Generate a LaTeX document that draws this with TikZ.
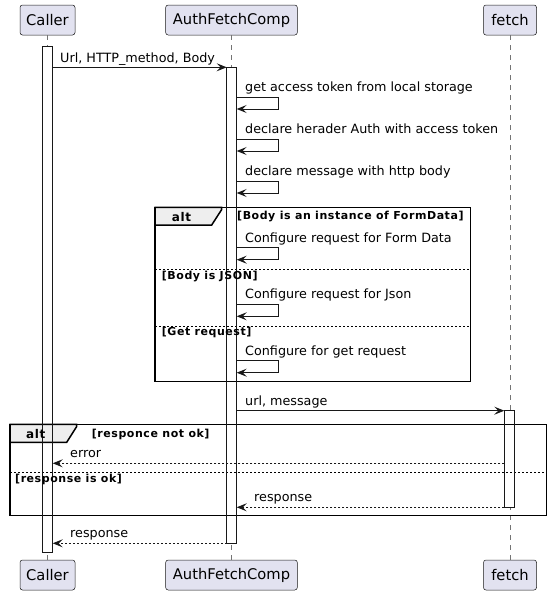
\documentclass[tikz,border=0pt]{standalone}
\usepackage{fontspec}
\setmainfont{DejaVu Sans}
\newfontfamily\guardfont[LetterSpace=5]{DejaVu Sans}
\usetikzlibrary{positioning,arrows.meta}

\definecolor{partfill}{HTML}{E2E2F0}
\definecolor{partline}{HTML}{181818}
\definecolor{tabfill}{HTML}{EEEEEE}

\tikzset{
	participant/.style={draw=partline, fill=partfill, line width=0.5pt, rounded corners=2.5pt, minimum height=30pt, inner xsep=0pt, font=\fontsize{14.7}{17}\selectfont},
	lifeline/.style={draw=partline!60, line width=0.5pt, dash pattern=on 5pt off 5pt},
	activation/.style={fill=white, minimum width=10pt, inner sep=0pt, anchor=north},
	activationline/.style={draw=partline, line width=1pt},
	msg/.style={draw=partline, line width=1pt, -{Stealth[length=10pt,width=8pt,inset=4pt]}},
	reply/.style={msg, dash pattern=on 2pt off 2pt},
	msgtext/.style={anchor=base west, inner sep=0pt, font=\fontsize{12.75}{15}\selectfont},
	guard/.style={anchor=base west, inner sep=0pt, font=\guardfont\bfseries\fontsize{11}{13}\selectfont},
	alttext/.style={anchor=base west, inner sep=0pt, font=\guardfont\bfseries\fontsize{12}{14}\selectfont},
	altframe/.style={draw=black, line width=1.5pt},
	alttab/.style={draw=black, fill=tabfill, line width=1.5pt},
	separator/.style={draw=black, line width=1pt, dash pattern=on 2pt off 2pt}
}

\begin{document}
\begin{tikzpicture}[x=1pt, y=-1pt]
	\useasboundingbox (0, 0) rectangle (552, 595);

	% Participants:
	\node[participant, minimum width=55pt] (callerTop) at (47.5, 20) {Caller};
	\node[participant, minimum width=131.6pt] (authTop) at (231.5, 20) {AuthFetchComp};
	\node[participant, minimum width=53pt] (fetchTop) at (510, 20) {fetch};
	\node[participant, minimum width=55pt] (callerBot) at (47.5, 575) {Caller};
	\node[participant, minimum width=131.6pt] (authBot) at (231.5, 575) {AuthFetchComp};
	\node[participant, minimum width=53pt] (fetchBot) at (510, 575) {fetch};

	% Lifelines:
	\draw[lifeline] (callerTop) -- (callerBot);
	\draw[lifeline] (authTop) -- (authBot);
	\draw[lifeline] (fetchTop) -- (fetchBot);

	% Activations (fill):
	\node[activation, minimum height=505pt] (callerAct) at (47.5, 46.7) {};
	\node[activation, minimum height=476pt] (authAct) at (231.7, 67.3) {};
	\node[activation, minimum height=96.6pt] (fetchAct) at (509.3, 410.7) {};

	% Alt frames:
	\draw[altframe] (155, 207.3) rectangle (470.7, 381.7);
	\draw[alttab] (155, 207.3) -- (221.7, 207.3) -- (221.7, 209.5) -- (211.7, 225) -- (155, 225) -- cycle;
	\draw[separator] (155, 269.3) -- (470.7, 269.3);
	\draw[separator] (155, 326) -- (470.7, 326);

	\draw[altframe] (10, 424.3) rectangle (546.7, 515.3);
	\draw[alttab] (10, 424.3) -- (76.7, 424.3) -- (76.7, 426.5) -- (66.7, 442.3) -- (10, 442.3) -- cycle;
	\draw[separator] (10, 472) -- (546.7, 472);

	% Activations (outline):
	\foreach \a in {callerAct, authAct, fetchAct}
		\draw[activationline] (\a.north west) rectangle (\a.south east);

	% Guards:
	\node[alttext] (altA) at (171.7, 221.5) {alt};
	\node[guard] (guardA1) at (237, 219.5) {[Body is an instance of FormData]};
	\node[guard] (guardA2) at (161.7, 279) {[Body is JSON]};
	\node[guard] (guardA3) at (161.7, 335.5) {[Get request]};
	\node[alttext] (altB) at (26, 438.3) {alt};
	\node[guard] (guardB1) at (91.7, 437.3) {[responce not ok]};
	\node[guard] (guardB2) at (15, 482.7) {[response is ok]};

	% Messages:
	\coordinate (callOut) at (52.7, 67.3);
	\coordinate (authIn) at (226.7, 67.3);
	\draw[msg] (callOut) -- (authIn);
	\node[msgtext] (lblCall) at (60, 62.5) {Url, HTTP\_method, Body};

	\foreach \y/\txt [count=\i] in {97/get access token from local storage,
			139/declare herader Auth with access token,
			181/declare message with http body,
			247.7/Configure request for Form Data,
			304.3/Configure request for Json,
			360.7/Configure for get request} {
		\coordinate (self\i) at (236.7, \y);
		\node[msgtext] (lblSelf\i) at (245, \y-5.5) {\txt};
		\draw[msg] (self\i) -- ++(41.3, 0) -- ++(0, 12) -- ++(-41.3, 0);
	}

	\coordinate (authOut) at (236.7, 410.7);
	\coordinate (fetchIn) at (504.3, 410.7);
	\draw[msg] (authOut) -- (fetchIn);
	\node[msgtext] (lblFetch) at (245, 405.2) {url, message};

	\coordinate (errFrom) at (504.3, 463.3);
	\coordinate (errTo) at (52.7, 463.3);
	\draw[reply] (errFrom) -- (errTo);
	\node[msgtext] (lblError) at (70, 457.8) {error};

	\coordinate (respFrom) at (504.3, 507.3);
	\coordinate (respTo) at (236.7, 507.3);
	\draw[reply] (respFrom) -- (respTo);
	\node[msgtext] (lblResp) at (254, 501.8) {response};

	\coordinate (backFrom) at (226.7, 543.3);
	\coordinate (backTo) at (52.7, 543.3);
	\draw[reply] (backFrom) -- (backTo);
	\node[msgtext] (lblBack) at (70, 537.8) {response};

\end{tikzpicture}
\end{document}
